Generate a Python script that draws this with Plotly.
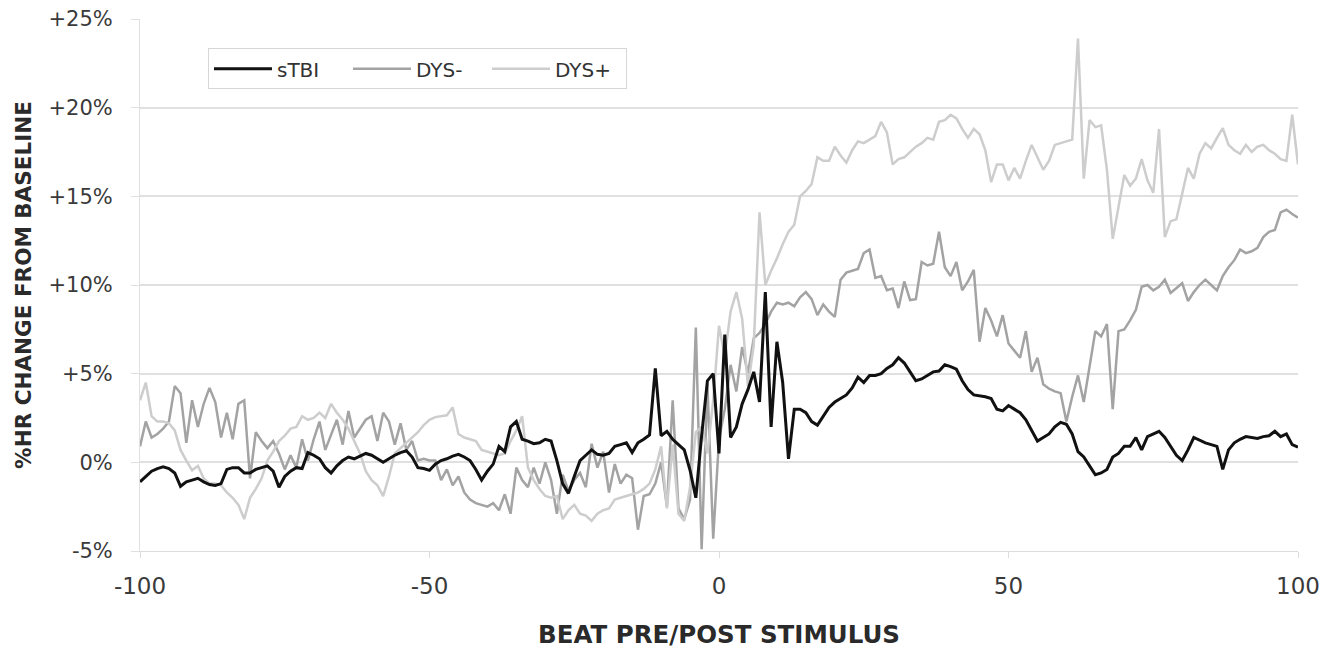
import plotly.graph_objects as go

beats = list(range(-100, 101))

stbi = [
    -1.1, -0.8, -0.5, -0.35, -0.25, -0.35, -0.6, -1.35, -1.1, -1.0,
    -0.9, -1.1, -1.25, -1.3, -1.2, -0.4, -0.3, -0.3, -0.6, -0.6,
    -0.4, -0.3, -0.2, -0.5, -1.4, -0.8, -0.5, -0.3, -0.35, 0.55,
    0.4, 0.2, -0.3, -0.6, -0.2, 0.1, 0.3, 0.2, 0.35, 0.5,
    0.4, 0.2, 0.0, 0.2, 0.4, 0.55, 0.65, 0.3, -0.3, -0.35,
    -0.45, -0.1, 0.1, 0.2, 0.35, 0.45, 0.3, 0.1, -0.4, -1.0,
    -0.5, -0.1, 0.9, 0.6, 2.0, 2.3, 1.3, 1.2, 1.05, 1.1,
    1.3, 1.2, 0.1, -1.2, -1.75, -0.8, 0.1, 0.4, 0.7, 0.45,
    0.4, 0.5, 0.9, 1.0, 1.1, 0.55, 1.1, 1.3, 1.55, 5.3,
    1.5, 1.75, 1.3, 1.0, 0.7, -0.45, -2.0, 1.5, 4.6, 5.0,
    0.5, 7.2, 1.4, 2.0, 3.3, 4.1, 5.1, 3.4, 9.6, 2.0,
    6.8, 4.5, 0.2, 3.0, 3.0, 2.8, 2.3, 2.1, 2.6, 3.1,
    3.4, 3.6, 3.8, 4.2, 4.8, 4.5, 4.9, 4.9, 5.0, 5.3,
    5.5, 5.9, 5.6, 5.1, 4.6, 4.7, 4.9, 5.1, 5.15, 5.5,
    5.4, 5.25, 4.6, 4.1, 3.8, 3.75, 3.7, 3.6, 3.0, 2.9,
    3.2, 3.0, 2.8, 2.4, 1.8, 1.2, 1.4, 1.6, 2.0, 2.25,
    2.15, 1.6, 0.6, 0.3, -0.2, -0.7, -0.6, -0.4, 0.3, 0.5,
    0.9, 0.9, 1.4, 0.7, 1.45, 1.6, 1.75, 1.4, 0.9, 0.4,
    0.1, 0.7, 1.4, 1.25, 1.1, 1.0, 0.9, -0.4, 0.7, 1.1,
    1.3, 1.45, 1.4, 1.35, 1.45, 1.5, 1.75, 1.45, 1.6, 1.0,
    0.85,
]

dys_minus = [
    0.9, 2.3, 1.4, 1.6, 1.9, 2.3, 4.3, 3.9, 1.1, 3.5,
    2.0, 3.3, 4.2, 3.4, 1.4, 2.8, 1.3, 3.3, 3.5, -0.9,
    1.7, 1.2, 0.8, 1.2, 0.5, -0.4, 0.4, -0.3, 1.3, 0.1,
    1.3, 2.3, 0.7, 1.6, 2.4, 1.0, 2.9, 1.4, 1.9, 2.4,
    2.6, 1.2, 2.8, 2.3, 1.0, 2.2, 0.7, 1.2, 0.1, 0.2,
    0.1, 0.1, -1.0, -0.4, -1.3, -0.8, -1.7, -2.1, -2.3, -2.4,
    -2.5, -2.3, -2.7, -1.8, -2.9, -0.3, -1.0, -1.4, -0.3, -1.2,
    0.0, -1.0, -2.9, -0.7, -1.6, -1.0, -0.6, -1.4, 1.05, -0.3,
    0.6, -1.7, -0.1, -1.2, -0.7, -0.9, -3.8, -1.9, -1.8, -1.2,
    0.0, -2.5, 3.5, -2.6, -3.2, -2.1, 7.6, -4.9, 4.4, -4.3,
    1.3, 3.0, 5.5, 4.0, 6.5, 5.0, 7.0, 7.3, 7.8, 8.5,
    9.0, 8.9, 9.0, 8.8, 9.3, 9.6, 9.2, 8.3, 8.9, 8.5,
    8.2, 10.3, 10.7, 10.8, 10.9, 11.8, 12.0, 10.4, 10.5, 9.7,
    9.8, 8.7, 10.2, 9.15, 9.2, 11.3, 11.1, 11.2, 13.0, 11.0,
    10.5, 11.3, 9.7, 10.2, 10.85, 6.8, 8.7, 8.0, 7.1, 8.3,
    6.7, 6.3, 5.9, 7.4, 5.1, 5.9, 4.4, 4.15, 4.0, 3.9,
    2.3, 3.7, 4.9, 3.4, 5.5, 7.4, 7.1, 7.8, 3.0, 7.4,
    7.5, 8.0, 8.6, 9.9, 10.0, 9.7, 9.9, 10.3, 9.55, 9.8,
    10.1, 9.1, 9.6, 10.0, 10.3, 10.0, 9.7, 10.5, 11.0, 11.4,
    12.0, 11.8, 11.9, 12.1, 12.7, 13.0, 13.1, 14.1, 14.25, 14.0,
    13.8,
]

dys_plus = [
    3.5, 4.5, 2.6, 2.3, 2.3, 2.2, 1.8, 0.7, 0.1, -0.45,
    -0.2, -0.9, -1.2, -1.2, -1.3, -1.7, -2.0, -2.4, -3.2, -2.0,
    -1.5, -0.9, 0.1, 0.6, 1.2, 1.5, 1.9, 2.0, 2.6, 2.4,
    2.5, 2.8, 2.5, 3.3, 2.8, 2.4, 1.9, 1.2, 0.5, -0.5,
    -1.0, -1.3, -1.9, -0.8, 0.5, 0.8, 1.1, 1.4, 1.7, 2.1,
    2.4, 2.55, 2.6, 2.65, 3.1, 1.6, 1.4, 1.3, 1.2, 0.7,
    0.6, 0.5, 0.4, 0.5, 1.2, 1.8, 2.6, -0.3, -1.0, -1.5,
    -1.9, -2.0, -1.9, -3.2, -2.7, -2.4, -2.9, -3.0, -3.3, -2.9,
    -2.7, -2.6, -2.1, -2.0, -1.9, -1.8, -1.7, -1.5, -1.2, -0.4,
    0.9, -2.6, 1.0, -2.9, -3.3, -1.4, 1.7, 2.0, 0.5, 3.5,
    7.7, 6.0, 8.5, 9.6, 8.1, 4.3, 6.6, 14.1, 10.0, 10.8,
    11.5, 12.3, 13.0, 13.4, 15.0, 15.3, 15.7, 17.2, 17.0, 17.0,
    17.8, 17.3, 16.9, 17.6, 18.1, 18.0, 18.2, 18.4, 19.2, 18.6,
    16.8, 17.1, 17.2, 17.5, 17.8, 18.0, 18.3, 18.2, 19.2, 19.3,
    19.6, 19.4, 18.8, 18.3, 18.8, 18.5, 17.6, 15.8, 16.8, 16.8,
    15.9, 16.6, 16.0, 17.0, 17.9, 17.2, 16.5, 17.0, 17.9, 18.0,
    18.1, 18.2, 23.9, 16.0, 19.3, 18.9, 19.0, 16.5, 12.6, 14.5,
    16.2, 15.6, 16.0, 17.1, 15.9, 15.2, 18.8, 12.7, 13.6, 13.7,
    15.2, 16.6, 16.0, 17.4, 18.0, 17.7, 18.3, 18.85, 17.9, 17.6,
    17.4, 17.9, 17.5, 17.8, 17.9, 17.6, 17.4, 17.1, 17.0, 19.6,
    16.8,
]

assert len(stbi) == len(beats) == len(dys_minus) == len(dys_plus)

y_ticks = [-5, 0, 5, 10, 15, 20, 25]
y_labels = ["-5%", "0%", "+5%", "+10%", "+15%", "+20%", "+25%"]
x_ticks = [-100, -50, 0, 50, 100]
x_labels = ["-100", "-50", "0", "50", "100"]

font_family = "DejaVu Sans, Verdana, sans-serif"

fig = go.Figure()
fig.add_trace(go.Scatter(x=beats, y=dys_minus, mode="lines", name="DYS-",
                         line=dict(color="#a3a3a3", width=2.5), legendrank=2))
fig.add_trace(go.Scatter(x=beats, y=dys_plus, mode="lines", name="DYS+",
                         line=dict(color="#cdcdcd", width=2.5), legendrank=3))
fig.add_trace(go.Scatter(x=beats, y=stbi, mode="lines", name="sTBI",
                         line=dict(color="#111111", width=3), legendrank=1))

# page body has an 8px default margin, so the figure is offset by 8px
fig.update_layout(
    width=1342, height=649,
    paper_bgcolor="white", plot_bgcolor="white",
    margin=dict(l=132, r=52, t=11, b=106, autoexpand=False),
    font=dict(family=font_family, color="#3a3a3a", size=20),
    showlegend=True,
    legend=dict(
        orientation="h", x=0.0587, y=0.945, xanchor="left", yanchor="top",
        bordercolor="#d6d6d6", borderwidth=1, bgcolor="white",
        font=dict(size=20, color="#333333"),
        entrywidth=66, itemwidth=58,
    ),
)
fig.update_xaxes(
    range=[-100, 100], tickvals=x_ticks, ticktext=x_labels,
    showgrid=False, zeroline=False, automargin=False,
    showline=True, linecolor="#dcdcdc", linewidth=1,
    ticks="outside", ticklen=6, tickcolor="#dcdcdc",
    ticklabelstandoff=8, ticklabeloverflow="allow",
    tickfont=dict(size=23, color="#3a3a3a"),
    title=dict(text="<b>BEAT PRE/POST STIMULUS</b>", font=dict(size=24.5, color="#2a2a2a"), standoff=28),
)
fig.update_yaxes(
    range=[-5, 25], tickvals=y_ticks, ticktext=y_labels,
    showgrid=True, gridcolor="#e0e0e0", gridwidth=1.5, zeroline=False, automargin=False,
    showline=True, linecolor="#e0e0e0", linewidth=1,
    ticks="outside", ticklen=8, tickcolor="#e0e0e0",
    ticklabelstandoff=14, ticklabeloverflow="allow",
    tickfont=dict(size=21, color="#3a3a3a"),
    title=dict(text="<b>%HR CHANGE FROM BASELINE</b>", font=dict(size=21.5, color="#2a2a2a"), standoff=10),
)

fig.write_html("out.html")
